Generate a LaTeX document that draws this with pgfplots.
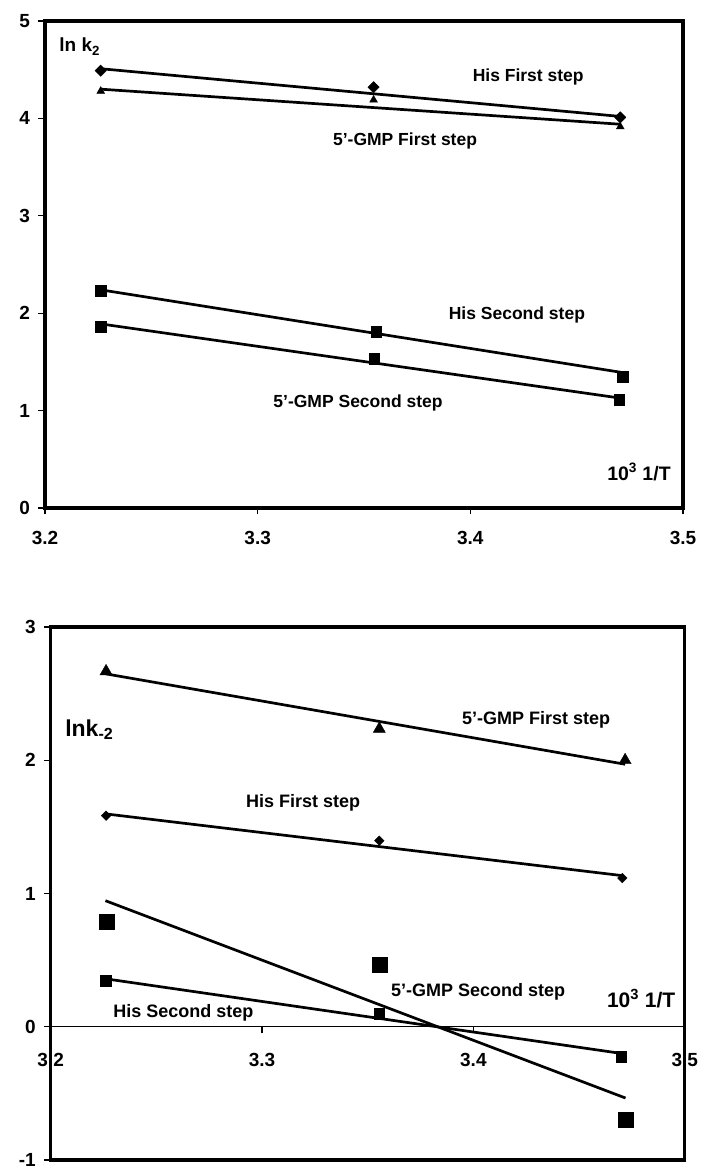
\documentclass[border=0pt]{standalone}
\usepackage{fontspec}
\setmainfont{Liberation Sans}
\usepackage{pgfplots}
\pgfplotsset{compat=1.18}
\pgfplotsset{
  fitline/.style={black,line width=2.7pt,no marks},
  myaxis/.style={
    scale only axis, clip=false,
    /pgf/number format/assume math mode=true,
    tick label style={font=\fontsize{19}{22}\selectfont\bfseries},
    xticklabel style={/pgf/number format/fixed,/pgf/number format/fixed zerofill,/pgf/number format/precision=1},
    yticklabel style={/pgf/number format/fixed,/pgf/number format/precision=0},
    tick style={black,line width=1.2pt},
    major tick length=6.5pt,
  }
}
\tikzset{
  lbl/.style={font=\fontsize{17.5}{20}\selectfont\bfseries, anchor=base, inner sep=0pt},
  lblb/.style={font=\fontsize{18}{20}\selectfont\bfseries, anchor=base, inner sep=0pt},
}
\newcommand{\ap}{{\char"0027}}
\begin{document}
\begin{tikzpicture}
\path[use as bounding box] (0,0) rectangle (702pt,1167pt);
% ---------------- top chart ----------------
\begin{axis}[myaxis,
  at={(45pt,659pt)}, anchor=south west, width=638pt, height=487pt,
  xmin=3.2, xmax=3.5, ymin=0, ymax=5,
  xtick={3.2,3.3,3.4,3.5}, ytick={0,1,2,3,4,5},
  tick align=outside, xtick pos=left, ytick pos=left,
  axis line style={line width=3.3pt},
  xticklabel style={yshift=-13pt},
  yticklabel style={xshift=-5pt},
]
\addplot[fitline] coordinates {(3.2262,4.51) (3.4705,4.02)};
\addplot[fitline] coordinates {(3.2262,4.30) (3.4705,3.94)};
\addplot[fitline] coordinates {(3.2262,2.24) (3.4717,1.39)};
\addplot[fitline] coordinates {(3.2262,1.89) (3.4699,1.13)};
\addplot[only marks, mark=square*, mark size=4pt, mark options={rotate=45,black}] coordinates {(3.2262,4.49) (3.3545,4.32) (3.4705,4.01)};
\addplot[only marks, mark=triangle*, mark size=4.5pt, mark options={black}] coordinates {(3.2262,4.28) (3.3545,4.19) (3.4705,3.915)};
\addplot[only marks, mark=square*, mark size=5.2pt, mark options={black}] coordinates {(3.2262,2.23) (3.3557,1.81) (3.4717,1.35)};
\addplot[only marks, mark=square*, mark size=5.2pt, mark options={black}] coordinates {(3.2262,1.86) (3.3548,1.533) (3.4699,1.11)};
\node[anchor=base west, inner sep=0pt, font=\fontsize{19}{22}\selectfont\bfseries] at (axis cs:3.2067,4.685) {ln k\textsubscript{2}};
\node[lbl] at (axis cs:3.4272,4.381) {His First step};
\node[lbl] at (axis cs:3.3693,3.721) {5\ap-GMP First step};
\node[lbl] at (axis cs:3.4219,1.934) {His Second step};
\node[lbl] at (axis cs:3.3472,1.027) {5\ap-GMP Second step};
\node[anchor=base, inner sep=0pt, font=\fontsize{19.5}{22}\selectfont\bfseries] at (axis cs:3.4793,0.287) {10\textsuperscript{3} 1/T};
\end{axis}
% ---------------- bottom chart ----------------
\begin{axis}[myaxis,
  at={(50.7pt,7pt)}, anchor=south west, width=634pt, height=533pt,
  xmin=3.2, xmax=3.5, ymin=-1, ymax=3,
  xtick={3.2,3.3,3.4,3.5}, ytick={-1,0,1,2,3},
  axis x line=middle, axis y line=left,
  x axis line style={line width=1pt,-},
  y axis line style={line width=3.3pt,-},
  hide obscured x ticks=false,
  xtick align=outside, ytick align=outside,
  xticklabel style={yshift=-16pt},
  yticklabel style={xshift=-5pt},
]
\addplot[fitline] coordinates {(3.2262,2.648) (3.4718,1.97)};
\addplot[fitline] coordinates {(3.2262,1.597) (3.4705,1.134)};
\addplot[fitline] coordinates {(3.2259,0.946) (3.4720,-0.535)};
\addplot[fitline] coordinates {(3.2259,0.36) (3.4699,-0.20)};
\addplot[only marks, mark=triangle*, mark size=7pt, mark options={black}] coordinates {(3.2262,2.667) (3.3555,2.235) (3.4718,2.0)};
\addplot[only marks, mark=square*, mark size=3.4pt, mark options={rotate=45,black}] coordinates {(3.2262,1.584) (3.3555,1.396) (3.4705,1.116)};
\addplot[only marks, mark=square*, mark size=7.6pt, mark options={black}] coordinates {(3.2265,0.79) (3.3558,0.465) (3.4720,-0.70)};
\addplot[only marks, mark=square*, mark size=5.3pt, mark options={black}] coordinates {(3.2259,0.345) (3.3555,0.10) (3.4699,-0.225)};
\draw[line width=3.3pt] (rel axis cs:0,0) rectangle (rel axis cs:1,1);
\node[anchor=base west, inner sep=0pt, font=\fontsize{23}{26}\selectfont\bfseries] at (axis cs:3.2068,2.18) {lnk\textsubscript{-2}};
\node[lblb] at (axis cs:3.4297,2.271) {5\ap-GMP First step};
\node[lblb] at (axis cs:3.3194,1.648) {His First step};
\node[lblb] at (axis cs:3.2628,0.071) {His Second step};
\node[lblb] at (axis cs:3.4022,0.227) {5\ap-GMP Second step};
\node[anchor=base, inner sep=0pt, font=\fontsize{21}{24}\selectfont\bfseries] at (axis cs:3.4794,0.145) {10\textsuperscript{3} 1/T};
\end{axis}
\end{tikzpicture}
\end{document}
